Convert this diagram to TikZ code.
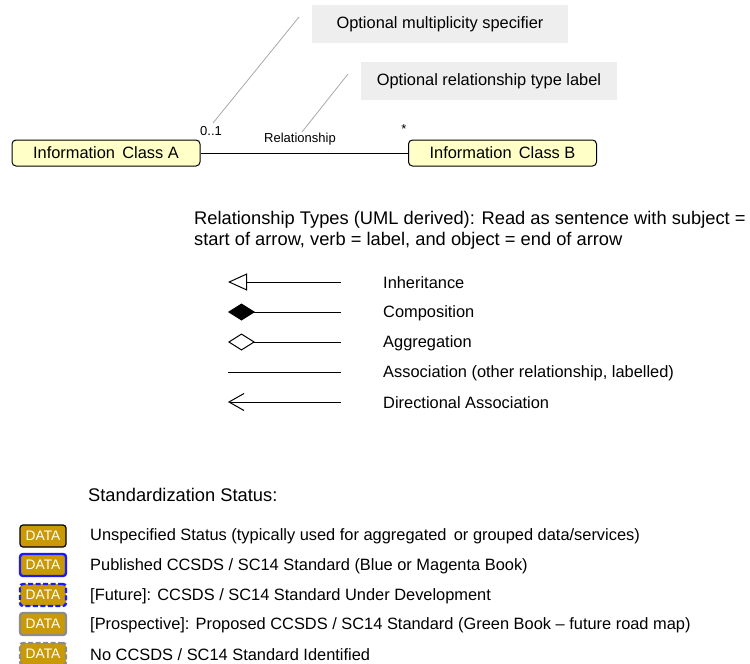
\documentclass[tikz,border=0pt]{standalone}
\usepackage{fontspec}
\setmainfont{Liberation Sans}
\usetikzlibrary{arrows.meta}
\definecolor{clsfill}{HTML}{FFFFC8}
\definecolor{callfill}{HTML}{EEEEEE}
\definecolor{leader}{HTML}{A8A8A8}
\definecolor{datafill}{HTML}{C99A06}
\definecolor{stdblue}{HTML}{1A1AFF}
\definecolor{stdgray}{HTML}{8C8C8C}
\tikzset{
  x=1pt, y=-1pt,
  every node/.style={font=\fontsize{16.4}{21}\selectfont, inner sep=0pt},
  classbox/.style={draw=black, line width=1pt, fill=clsfill, rounded corners=4pt,
    minimum width=188pt, minimum height=26pt, anchor=center},
  callout/.style={fill=callfill, minimum width=256pt, minimum height=38pt, anchor=center},
  leaderline/.style={draw=leader, line width=0.8pt},
  small/.style={font=\fontsize{13}{15}\selectfont},
  big/.style={font=\fontsize{18.3}{21}\selectfont},
  legtext/.style={anchor=west},
  relline/.style={line width=1pt},
  databox/.style={fill=datafill, rounded corners=3pt, minimum width=46pt, minimum height=22pt,
    text=white, font=\fontsize{13.8}{15}\selectfont, anchor=center},
  unspec/.style={databox, draw=black, line width=1.2pt},
  published/.style={databox, draw=stdblue, line width=2.4pt},
  future/.style={databox, draw=stdblue, line width=2.4pt, dash pattern=on 5pt off 2.5pt},
  prospective/.style={databox, draw=stdgray, line width=2.4pt},
  nostd/.style={databox, draw=stdgray, line width=2.4pt, dash pattern=on 5pt off 2.5pt},
}
\begin{document}
\begin{tikzpicture}
\useasboundingbox (0,0) rectangle (750,664);

% callouts
\node[callout] (c1) at (440,24) {Optional multiplicity specifier};
\node[callout] (c2) at (489,81) {Optional relationship type label};
\coordinate (l1a) at (299,17);
\coordinate (l1b) at (213,123);
\coordinate (l2a) at (348,74);
\coordinate (l2b) at (302,132);
\draw[leaderline] (l1a) -- (l1b);
\draw[leaderline] (l2a) -- (l2b);

% classes
\node[classbox] (A) at (106,153) {Information\, Class A};
\node[classbox] (B) at (502.5,153) {Information\, Class B};
\draw[relline] (A) -- (B);
\node[small] (m1) at (211,131) {0..1};
\node[small] (rel) at (300,139) {Relationship};
\node[small] (m2) at (404,129) {*};

% relationship types
\node[big, anchor=west, align=left] (rt) at (194,230) {Relationship Types (UML derived): Read as sentence with subject =\\start of arrow, verb = label, and object = end of arrow};

\foreach \n/\y in {1/282,2/312,3/342,4/372,5/402}{
  \coordinate (s\n) at (228,\y);
  \coordinate (e\n) at (341,\y);
}
\draw[relline, {Triangle[open,length=19pt,width=17pt,line width=1pt]}-] (s1) -- (e1);
\draw[relline, {Diamond[length=27pt,width=17pt]}-] (s2) -- (e2);
\draw[relline, {Diamond[open,length=27pt,width=17pt,line width=1pt]}-] (s3) -- (e3);
\draw[relline] (s4) -- (e4);
\draw[relline, {Straight Barb[length=15pt,width=17pt,line width=1pt]}-] (s5) -- (e5);

\node[legtext] (t1) at (383,283) {Inheritance};
\node[legtext] (t2) at (383,313) {Composition};
\node[legtext] (t3) at (383,343) {Aggregation};
\node[legtext] (t4) at (383,373) {Association (other relationship, labelled)};
\node[legtext] (t5) at (383,403) {Directional Association};

% standardization status
\node[big, legtext] (ss) at (88,495) {Standardization Status:};

\node[unspec] (d1) at (43,536) {DATA};
\node[published] (d2) at (43,565) {DATA};
\node[future] (d3) at (43,595) {DATA};
\node[prospective] (d4) at (43,624) {DATA};
\node[nostd] (d5) at (43,654) {DATA};

\node[legtext] (u1) at (90,536) {Unspecified Status (typically used for aggregated\, or grouped data/services)};
\node[legtext] (u2) at (90,566) {Published CCSDS / SC14 Standard (Blue or Magenta Book)};
\node[legtext] (u3) at (90,596) {[Future]: CCSDS / SC14 Standard Under Development};
\node[legtext] (u4) at (90,625) {[Prospective]: Proposed CCSDS / SC14 Standard (Green Book -- future road map)};
\node[legtext] (u5) at (90,655) {No CCSDS / SC14 Standard Identified};
\end{tikzpicture}
\end{document}
